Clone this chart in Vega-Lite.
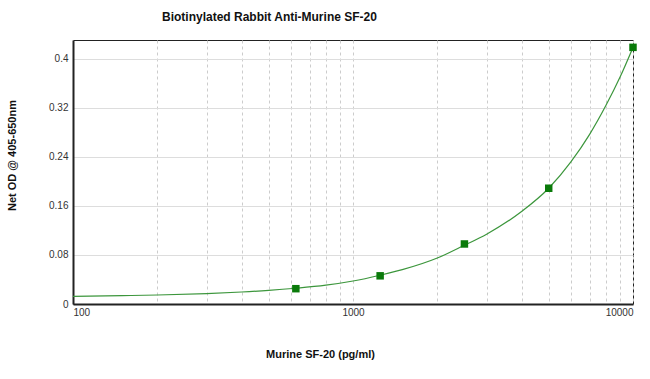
{
  "$schema": "https://vega.github.io/schema/vega-lite/v6.json",
  "width": 560,
  "height": 264,
  "autosize": {"type": "none"},
  "padding": {"left": 73, "top": 40, "right": 17, "bottom": 75},
  "background": "white",
  "title": {
    "text": "Biotinylated Rabbit Anti-Murine SF-20",
    "anchor": "start",
    "frame": "group",
    "dx": 89,
    "offset": 16,
    "font": "Liberation Sans",
    "fontSize": 12,
    "fontWeight": "bold",
    "color": "#111"
  },
  "datasets": {
    "curve": [
      {"conc": 100, "od": 0.0126},
      {"conc": 150, "od": 0.0136},
      {"conc": 200, "od": 0.0147},
      {"conc": 300, "od": 0.0171},
      {"conc": 400, "od": 0.0196},
      {"conc": 500, "od": 0.0222},
      {"conc": 625, "od": 0.0257},
      {"conc": 800, "od": 0.0307},
      {"conc": 1000, "od": 0.0375},
      {"conc": 1250, "od": 0.047},
      {"conc": 1500, "od": 0.056},
      {"conc": 2000, "od": 0.075},
      {"conc": 2500, "od": 0.096},
      {"conc": 3000, "od": 0.114},
      {"conc": 4000, "od": 0.151},
      {"conc": 5000, "od": 0.189},
      {"conc": 6000, "od": 0.232},
      {"conc": 7000, "od": 0.277},
      {"conc": 8000, "od": 0.324},
      {"conc": 9000, "od": 0.371},
      {"conc": 10000, "od": 0.419}
    ],
    "points": [
      {"conc": 625, "od": 0.025},
      {"conc": 1250, "od": 0.046},
      {"conc": 2500, "od": 0.098},
      {"conc": 5000, "od": 0.189},
      {"conc": 10000, "od": 0.419}
    ]
  },
  "encoding": {
    "x": {
      "field": "conc",
      "type": "quantitative",
      "scale": {"type": "log", "domain": [100, 10000], "nice": false},
      "axis": {
        "title": "Murine SF-20 (pg/ml)",
        "values": [100, 200, 300, 400, 500, 600, 700, 800, 900, 1000, 2000, 3000, 4000, 5000, 6000, 7000, 8000, 9000, 10000],
        "labelExpr": "(datum.value == 100 || datum.value == 1000 || datum.value == 10000) ? format(datum.value, 'd') : ''",
        "labelFlush": true,
        "labelOverlap": false,
        "ticks": false,
        "labelPadding": 3,
        "labelFont": "Liberation Sans",
        "labelFontSize": 10,
        "labelColor": "#333",
        "grid": true,
        "gridColor": "#cccccc",
        "gridDash": [3, 3],
        "gridWidth": 1,
        "domainColor": "#222",
        "domainWidth": 2,
        "titleFont": "Liberation Sans",
        "titleFontSize": 11,
        "titleFontWeight": "bold",
        "titleColor": "#111",
        "titleX": 247,
        "titleY": 50,
        "titleBaseline": "middle"
      }
    },
    "y": {
      "field": "od",
      "type": "quantitative",
      "scale": {"domain": [0, 0.431], "nice": false, "zero": true},
      "axis": {
        "title": "Net OD @ 405-650nm",
        "values": [0, 0.08, 0.16, 0.24, 0.32, 0.4],
        "format": ".2~f",
        "ticks": false,
        "labelPadding": 5,
        "labelFont": "Liberation Sans",
        "labelFontSize": 10,
        "labelColor": "#333",
        "grid": true,
        "gridColor": "#dddddd",
        "gridWidth": 1,
        "domainColor": "#222",
        "domainWidth": 2,
        "titleFont": "Liberation Sans",
        "titleFontSize": 11,
        "titleFontWeight": "bold",
        "titleColor": "#111",
        "titleX": -61,
        "titleY": 115,
        "titleBaseline": "middle"
      }
    }
  },
  "layer": [
    {
      "data": {"name": "curve"},
      "mark": {"type": "line", "interpolate": "monotone", "color": "#3c963c", "strokeWidth": 1.2, "clip": true}
    },
    {
      "data": {"name": "points"},
      "mark": {"type": "point", "shape": "square", "filled": true, "size": 56, "color": "#0a7a0a", "opacity": 1}
    }
  ],
  "config": {
    "view": {"stroke": "#222", "strokeWidth": 1}
  }
}
